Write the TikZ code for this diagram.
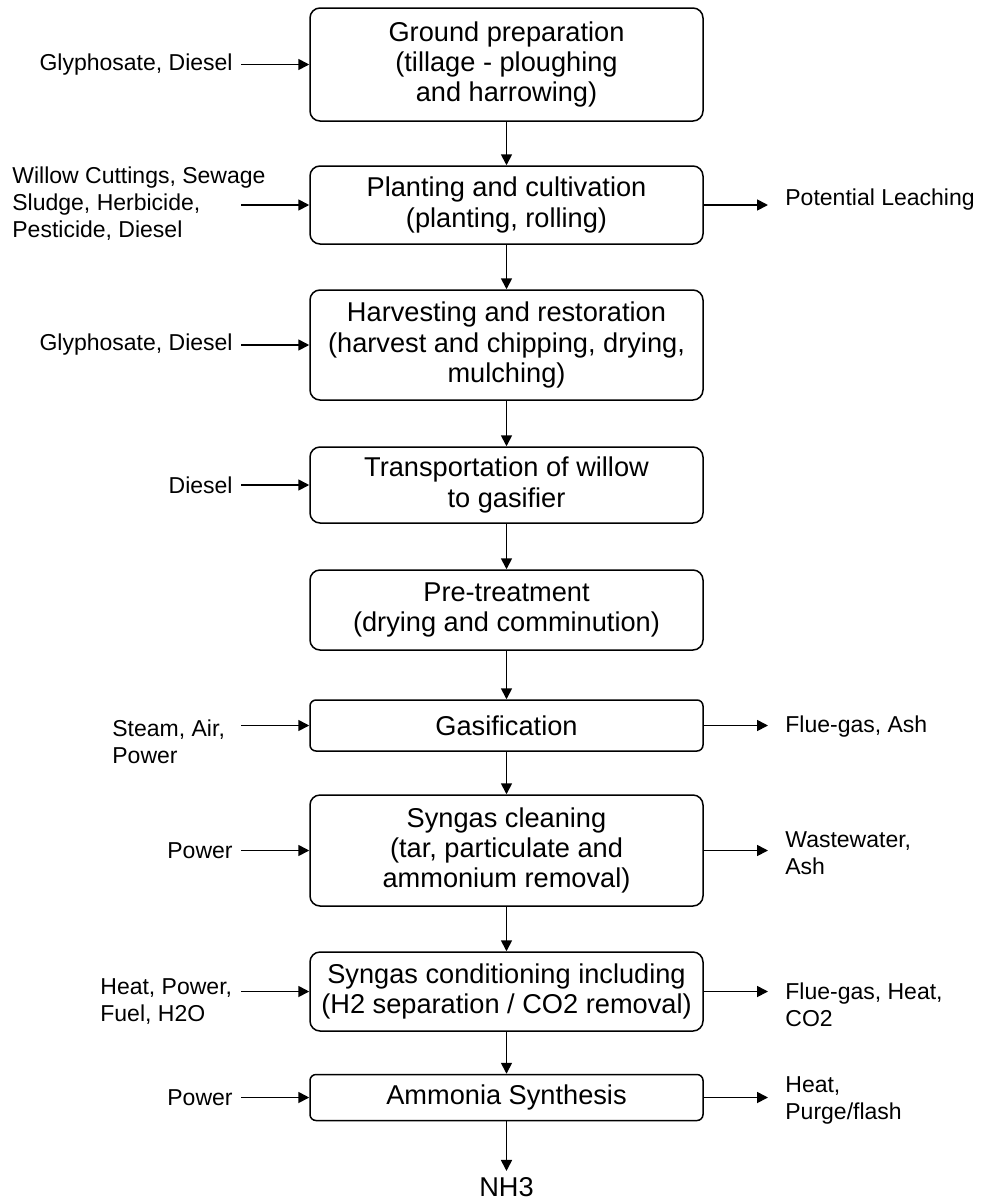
\documentclass[tikz,border=0pt]{standalone}
\usepackage{fontspec}
\setmainfont{Liberation Sans}
\usetikzlibrary{arrows.meta}
\begin{document}
\begin{tikzpicture}[x=0.5pt,y=-0.5pt,
    stage/.style={draw,rounded corners=5pt,line width=0.75pt,minimum width=196.5pt,
      inner sep=1pt,align=center,font=\fontsize{13.6}{15.2}\selectfont},
    side/.style={inner sep=0pt,align=left,font=\fontsize{11.5}{13.5}\selectfont},
    flow/.style={line width=0.85pt,-{Triangle[length=5.5pt,width=5.5pt]}}]
  \useasboundingbox (0,0) rectangle (984,1200);
  % process chain
  \node[stage,minimum height=56.5pt] (ground) at (506.5,64.5)
    {Ground preparation\\(tillage - ploughing\\and harrowing)};
  \node[stage,minimum height=39pt] (plant) at (506.5,205)
    {Planting and cultivation\\(planting, rolling)};
  \node[stage,minimum height=55pt] (harvest) at (506.5,345)
    {Harvesting and restoration\\(harvest and chipping, drying,\\mulching)};
  \node[stage,minimum height=38pt] (transport) at (506.5,485)
    {Transportation of willow\\to gasifier};
  \node[stage,minimum height=40pt] (pretreat) at (506.5,610)
    {Pre-treatment\\(drying and comminution)};
  \node[stage,minimum height=25.5pt,rounded corners=3pt] (gasify) at (506.5,725.5)
    {Gasification};
  \node[stage,minimum height=55.5pt] (clean) at (506.5,850.5)
    {Syngas cleaning\\(tar, particulate and\\ammonium removal)};
  \node[stage,minimum height=39.5pt] (condition) at (506.5,991.5)
    {Syngas conditioning including\\(H2 separation / CO2 removal)};
  \node[stage,minimum height=23pt,rounded corners=3pt] (synth) at (506.5,1097.5)
    {Ammonia Synthesis};
  \node[inner sep=3pt,font=\fontsize{13.6}{15.2}\selectfont] (nh3) at (506.5,1187) {NH3};
  \foreach \a/\b in {ground/plant,plant/harvest,harvest/transport,transport/pretreat,
      pretreat/gasify,gasify/clean,clean/condition,condition/synth,synth/nh3}
    \draw[flow] (\a.south) -- (\b.north);
  % inputs
  \coordinate (lx) at (241,0);
  \coordinate (rx) at (768,0);
  \node[side,anchor=east] (in1) at (233,65) {Glyphosate, Diesel};
  \node[side,anchor=west] (in2) at (12,204) {Willow Cuttings, Sewage\\Sludge, Herbicide,\\Pesticide, Diesel};
  \node[side,anchor=east] (in3) at (233,345) {Glyphosate, Diesel};
  \node[side,anchor=east] (in4) at (233,485) {Diesel};
  \node[side,anchor=north west] (in6) at (112,719) {Steam, Air,\\Power};
  \node[side,anchor=east] (in7) at (233,851) {Power};
  \node[side,anchor=north west] (in8) at (100,978.5) {Heat, Power,\\Fuel, H2O};
  \node[side,anchor=east] (in9) at (233,1097.5) {Power};
  \foreach \n in {ground,plant,harvest,transport,gasify,clean,condition,synth}
    \draw[flow] (lx |- \n.west) -- (\n.west);
  % outputs
  \node[side,anchor=west] (out2) at (785,200) {Potential Leaching};
  \node[side,anchor=west] (out6) at (785,727) {Flue-gas, Ash};
  \node[side,anchor=west] (out7) at (785,853) {Wastewater,\\Ash};
  \node[side,anchor=north west] (out8) at (785,982.5) {Flue-gas, Heat,\\CO2};
  \node[side,anchor=west] (out9) at (785,1100) {Heat,\\Purge/flash};
  \foreach \n in {plant,gasify,clean,condition,synth}
    \draw[flow] (\n.east) -- (rx |- \n.east);
\end{tikzpicture}
\end{document}
